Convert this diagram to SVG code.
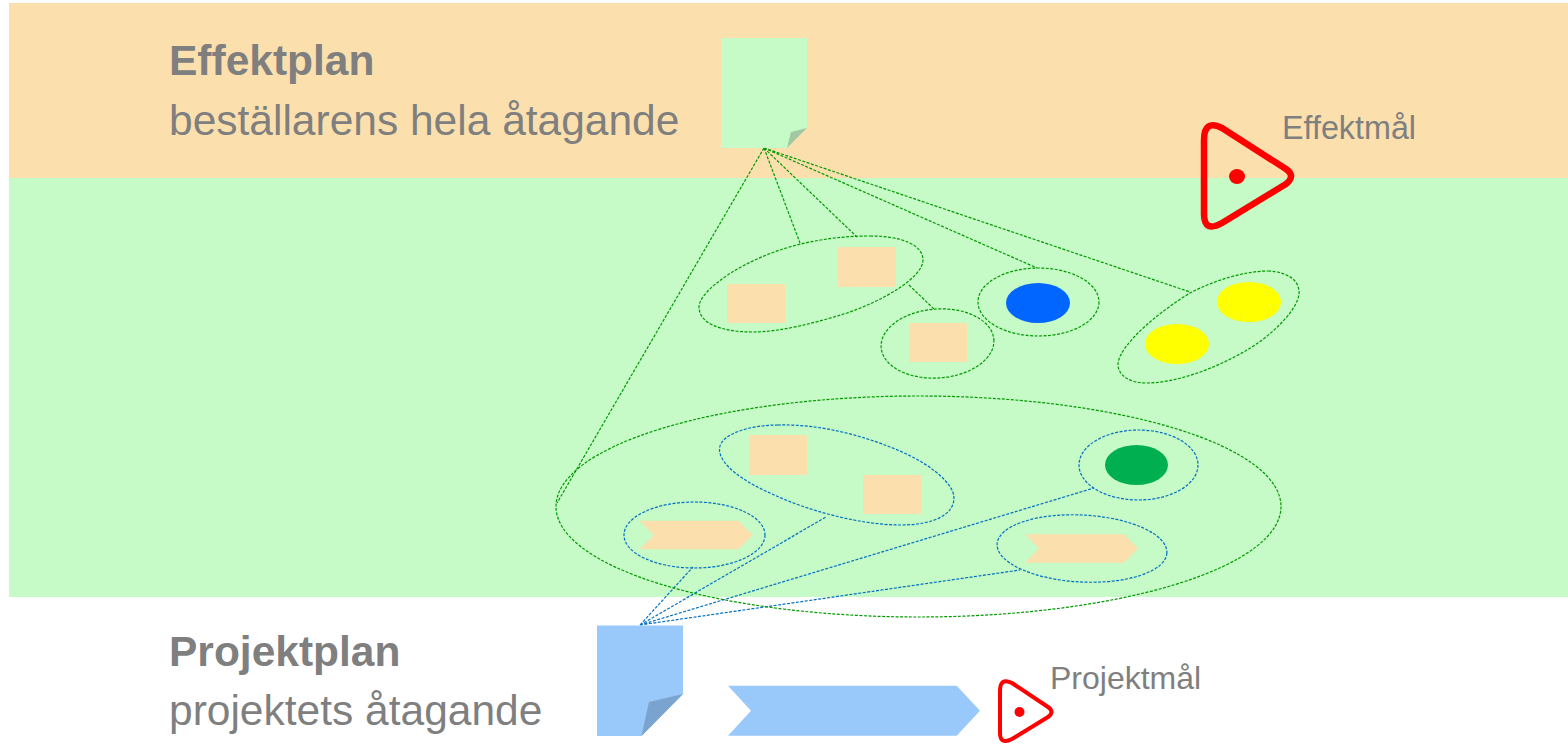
<svg xmlns="http://www.w3.org/2000/svg" width="1568" height="744" viewBox="0 0 1568 744">
<style>
text{font-family:"Liberation Sans",Arial,sans-serif;fill:#7f7f7f}
.h{font-size:42.500px;font-weight:bold}
.s{font-size:42.500px}
.o{fill:#fbe0ae}
.ge{fill:none;stroke:#009a00;stroke-width:1.200;stroke-dasharray:3 1.500}
.be{fill:none;stroke:#0070c0;stroke-width:1.200;stroke-dasharray:3 1.500}
.r{fill:none;stroke:#ff0000;stroke-linejoin:round}
</style>
<g id="bands">
<rect x="9" y="3" width="1559" height="175" fill="#fbe0ae"/>
<rect x="9" y="178" width="1559" height="419" fill="#c6fac6"/>
</g>
<g id="connectors">
<path class="ge" d="M764 148L557 503M764 148L800 243M764 148L857 237M764 148L1037 268M764 148L1190 292M909 285L934 309"/>
<path class="be" d="M640 625L693 567M640 625L826 517M640 625L1094 488M640 625L1020 570"/>
</g>
<g id="effektplan-title"><text class="h" x="169" y="75">Effektplan</text><text class="s" x="169" y="135">beställarens hela åtagande</text></g>
<g id="effektplan-doc"><path d="M721 38H807V128L787 148H721Z" fill="#c6fac6"/><path d="M807 128L791 132L787 148Z" fill="#a3c7a3"/></g>
<g id="effektmal"><path class="r" stroke-width="6.500" d="M1222 128L1286 169Q1296 176 1286 184L1222 223Q1204 233 1204 214V140Q1204 119 1222 128Z"/><ellipse cx="1237" cy="176.500" rx="8" ry="7.500" fill="#ff0000"/><text x="1282" y="139" font-size="32.300">Effektmål</text></g>
<g id="group-a"><path class="ge" d="M870 236C902 236 923 245 923 260C923 277 885 300 847 313C815 323 780 332 753 332C720 332 699 323 699 307C699 290 745 258 797 245C820 239 845 236 870 236Z"/><rect class="o" x="727" y="284" width="58" height="39"/><rect class="o" x="838" y="247" width="58" height="40"/></g>
<g id="group-b"><ellipse class="ge" transform="rotate(-4 937.500 343.500)" cx="937.500" cy="343.500" rx="56.500" ry="34.500"/><rect class="o" x="909" y="323" width="58" height="39"/></g>
<g id="group-c"><ellipse class="ge" cx="1038.500" cy="302" rx="60.500" ry="34"/><ellipse cx="1038" cy="303" rx="32" ry="20" fill="#0066ff"/></g>
<g id="group-d"><path class="ge" d="M1268 271C1290 272 1300 282 1299 294C1297 312 1268 338 1247 350C1215 369 1175 383 1147 383C1130 383 1118 376 1118 364C1119 345 1160 311 1190 293C1215 280 1245 271 1268 271Z"/><ellipse cx="1249" cy="302" rx="32" ry="20" fill="#ffff00"/><ellipse cx="1177" cy="344" rx="32" ry="20" fill="#ffff00"/></g>
<g id="group-e"><ellipse class="ge" cx="918.500" cy="506.500" rx="362.500" ry="110.500"/></g>
<g id="group-f"><path class="be" d="M778 425C750 425 720 434 719.500 449C719 465 745 482 770 493C805 510 860 525 900 525C935 525 954 514 954 498C954 482 925 460 890 447C855 433 815 424 778 425Z"/><rect class="o" x="749" y="435" width="58" height="40"/><rect class="o" x="863" y="475" width="58" height="39"/></g>
<g id="group-g"><ellipse class="be" cx="694.500" cy="535" rx="70.500" ry="33"/><path class="o" d="M639.500 520.700H738.700L752.700 535L738.700 549.300H639.500L654 535Z"/></g>
<g id="group-h"><ellipse class="be" cx="1138.500" cy="465" rx="59.500" ry="35"/><ellipse cx="1136.500" cy="465" rx="31.500" ry="20" fill="#00b050"/></g>
<g id="group-i"><ellipse class="be" transform="rotate(3 1082 548.500)" cx="1082" cy="548.500" rx="85" ry="33.500"/><path class="o" d="M1025.300 534.300H1124L1138 548.500L1124 562.700H1025.300L1039 548.500Z"/></g>
<g id="projektplan-title"><text class="h" x="169" y="666">Projektplan</text><text class="s" x="169" y="725">projektets åtagande</text></g>
<g id="projektplan-doc"><path d="M597 625.500H683V694L641.500 736H597Z" fill="#99c8fa"/><path d="M683 694L649 702L641.500 736Z" fill="#7aa3d0"/></g>
<g id="projekt-chevron"><path d="M728 685.700H956.700L980 710.700L956.700 735.700H728L751 710.700Z" fill="#99c8fa"/></g>
<g id="projektmal"><path class="r" stroke-width="4" d="M1012 683L1048 707Q1055 712 1048 717L1012 739Q1000 745 1000 733V691Q1000 677 1012 683Z"/><circle cx="1019.500" cy="712" r="5" fill="#ff0000"/><text x="1050" y="689" font-size="32">Projektmål</text></g>
</svg>
